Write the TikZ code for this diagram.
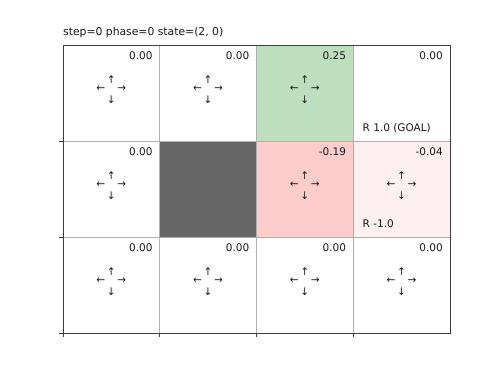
\documentclass[tikz,border=0pt]{standalone}
\usepackage{fontspec}
\setmainfont{DejaVu Sans}
\usetikzlibrary{calc}
\definecolor{goalgreen}{HTML}{BDDFBD}
\definecolor{wallgray}{HTML}{666666}
\definecolor{badpink}{HTML}{FFCCCC}
\definecolor{palepink}{HTML}{FDF0EF}
\definecolor{gridgray}{HTML}{B0B0B0}
\definecolor{framegray}{HTML}{404040}
\definecolor{txt}{HTML}{1A1A1A}
\tikzset{
  valtext/.style={anchor=base east,inner sep=0pt,font=\fontsize{10.5}{12}\selectfont,text=txt},
  rewtext/.style={anchor=base west,inner sep=0pt,font=\fontsize{10.5}{12}\selectfont,text=txt},
  arr/.style={anchor=center,inner sep=0pt,font=\fontsize{10.5}{11}\selectfont,text=txt},
  titletext/.style={anchor=base west,inner sep=0pt,font=\fontsize{10.8}{12}\selectfont,text=txt},
  gridline/.style={draw=gridgray,line width=0.7pt},
  frameline/.style={draw=framegray,line width=0.9pt},
  tickline/.style={draw=framegray,line width=0.8pt}
}
\begin{document}
\begin{tikzpicture}[x=1pt,y=-1pt]
\useasboundingbox[fill=white] (0,0) rectangle (500,375);
\def\cw{96.75}
\def\ch{96}
% coloured cells
\fill[goalgreen] (256.5,45) rectangle (353.25,141);
\fill[wallgray] (159.75,141) rectangle (256.5,237);
\fill[badpink] (256.5,141) rectangle (353.25,237);
\fill[palepink] (353.25,141) rectangle (450,237);
% grid lines
\foreach \x in {159.75,256.5,353.25} \draw[gridline] (\x,45) -- (\x,333);
\foreach \y in {141,237} \draw[gridline] (63,\y) -- (450,\y);
% frame
\draw[frameline] (63,45) rectangle (450,333);
% ticks
\foreach \x in {63,159.75,256.5,353.25} \draw[tickline] (\x,333) -- (\x,337);
\foreach \y in {141,237,333} \draw[tickline] (63,\y) -- (59,\y);
% title
\node[titletext] (title) at (63,35) {step=0 phase=0 state=(2, 0)};
% values
\foreach \r/\c/\v in {0/0/0.00,0/1/0.00,0/2/0.25,0/3/0.00,1/0/0.00,1/2/-0.19,1/3/-0.04,2/0/0.00,2/1/0.00,2/2/0.00,2/3/0.00}{
  \node[valtext] (v\r\c) at ({63+(\c+1)*\cw-7},{45+\r*\ch+14.3}) {\v};
}
% arrows
\foreach \r/\c in {0/0,0/1,0/2,1/0,1/2,1/3,2/0,2/1,2/2,2/3}{
  \coordinate (m\r\c) at ({63+(\c+0.5)*\cw},{45+(\r+0.5)*\ch-3.8});
  \node[arr] (u\r\c) at ($(m\r\c)+(0,-10)$) {↑};
  \node[arr] (d\r\c) at ($(m\r\c)+(0,10)$) {↓};
  \node[arr] (l\r\c) at ($(m\r\c)+(-10.5,0)$) {←};
  \node[arr] (r\r\c) at ($(m\r\c)+(10.5,0)$) {→};
}
% rewards
\node[rewtext] (goal) at (362.5,131) {R 1.0 (GOAL)};
\node[rewtext] (pen) at (362.5,227.3) {R -1.0};
\end{tikzpicture}
\end{document}
